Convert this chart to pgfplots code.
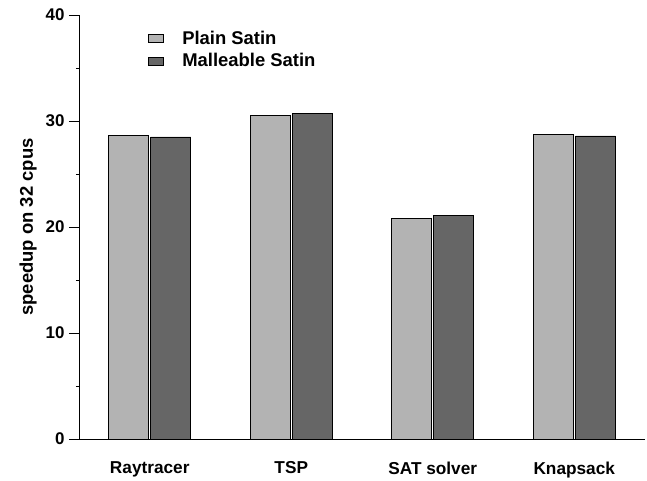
\documentclass[border=0pt]{standalone}
\usepackage{pgfplots}
\pgfplotsset{compat=1.18}
\usepackage{fontspec}
\setmainfont{Liberation Sans}
\definecolor{lightbar}{HTML}{B3B3B3}
\definecolor{darkbar}{HTML}{666666}
\begin{document}
\begin{tikzpicture}
\begin{axis}[
  name=main,
  scale only axis,
  width=566bp, height=424bp,
  ybar=2bp, bar width=40bp,
  xmin=-0.5, xmax=3.5,
  ymin=0, ymax=40,
  xtick=data,
  xticklabels={Raytracer,TSP,SAT solver,Knapsack},
  x tick style={draw=none},
  ytick={0,10,20,30,40},
  minor y tick num=1,
  ytick align=outside,
  major tick length=10bp,
  minor tick length=3bp,
  tick style={black, line width=0.8pt},
  axis x line*=bottom,
  axis y line*=left,
  axis line style={black, line width=0.8pt, -},
  /pgf/number format/assume math mode=true,
  tick label style={font=\fontsize{17}{19}\selectfont\bfseries},
  yticklabel style={xshift=-1bp},
  xticklabel style={yshift=-9bp, font=\fontsize{17.3}{19}\selectfont\bfseries},
  ylabel={speedup on 32 cpus},
  ylabel style={font=\fontsize{18.5}{20}\selectfont\bfseries, yshift=2bp},
  legend style={draw=none, fill=none, at={(rel axis cs:0.121,0.967)}, anchor=north west,
    font=\fontsize{18.5}{20}\selectfont\bfseries, row sep=3.5bp, inner sep=0pt},
  legend cell align=left,
  legend image code/.code={\draw[#1] (0bp,-4bp) rectangle (15bp,4bp);},
]
\addplot[fill=lightbar, draw=black, line width=0.6pt] coordinates {(0,28.65) (1,30.5) (2,20.8) (3,28.7)};
\addplot[fill=darkbar, draw=black, line width=0.6pt] coordinates {(0,28.5) (1,30.7) (2,21.1) (3,28.6)};
\legend{\hspace{17bp}Plain Satin, \hspace{17bp}Malleable Satin}
\end{axis}
\path (main.south west) ++(-79bp,-39bp) coordinate (bbsw);
\path[use as bounding box] (bbsw) rectangle ++(647bp,478bp);
\end{tikzpicture}
\end{document}
